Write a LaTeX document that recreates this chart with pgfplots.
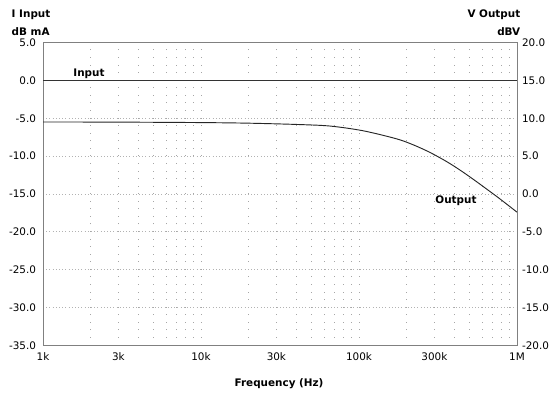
\documentclass[border=0pt]{standalone}
\usepackage{pgfplots}
\pgfplotsset{compat=1.18}
\usepackage{fontspec}
\setmainfont{DejaVu Sans}
\begin{document}
\fontsize{7.8}{9.4}\selectfont
\begin{tikzpicture}
\path (-32.25pt,-36pt) rectangle (384.75pt,259pt);
\begin{axis}[
  at={(0,0)}, anchor=south west,
  scale only axis, width=355.5pt, height=227pt,
  xmode=log, xmin=1000, xmax=1000000,
  ymin=-35, ymax=5,
  ytick={-35,-30,...,5},
  xtick={1000,3000,10000,30000,100000,300000,1000000},
  xticklabels={1k,3k,10k,30k,100k,300k,1M},
  minor xtick={2000,4000,5000,6000,7000,8000,9000,20000,40000,50000,60000,70000,80000,90000,200000,400000,500000,600000,700000,800000,900000},
  /pgf/number format/assume math mode=true,
  /pgf/number format/fixed, /pgf/number format/fixed zerofill, /pgf/number format/precision=1,
  yticklabel={\pgfmathprintnumber{\tick}},
  major tick length=0pt, minor tick length=0pt,
  axis line style={draw=black!50, line width=0.7pt},
  xmajorgrids, xminorgrids, ymajorgrids,
  x grid style={draw=black!35, line width=0.6pt, dash pattern=on 0.6pt off 5.075pt},
  minor x grid style={draw=black!35, line width=0.6pt, dash pattern=on 0.6pt off 5.075pt},
  y grid style={draw=black!30, line width=0.6pt, dash pattern=on 0.6pt off 1.8pt},
  xticklabel style={yshift=-3pt},
  yticklabel style={xshift=-2.5pt},
  clip=false,
]
\addplot[black!80, line width=0.7pt] coordinates {(1000,0) (1000000,0)};
\addplot[black!85, line width=0.7pt, smooth] coordinates {
(1000,-5.48) (3000,-5.50) (10000,-5.56) (20000,-5.64) (40500,-5.81) (65600,-6.02)
(106000,-6.64) (173000,-7.71) (221000,-8.51) (281000,-9.5) (359000,-10.72)
(436000,-11.84) (529000,-13.06) (643000,-14.35) (780000,-15.65) (1000000,-17.4)};
\node[font=\bfseries] at (axis cs:1955,0.94) {Input};
\node[font=\bfseries] at (axis cs:411000,-15.85) {Output};
\node[font=\bfseries] at (rel axis cs:0.498,0) [yshift=-28.5pt] {Frequency (Hz)};
\node[font=\bfseries, anchor=west] at (rel axis cs:0,1) [xshift=-26.25pt, yshift=21pt] {I Input};
\node[font=\bfseries, anchor=west] at (rel axis cs:0,1) [xshift=-26.25pt, yshift=8.25pt] {dB mA};
\node[font=\bfseries, anchor=east] at (rel axis cs:1,1) [xshift=5.25pt, yshift=21pt] {V Output};
\node[font=\bfseries, anchor=east] at (rel axis cs:1,1) [xshift=5.25pt, yshift=8.25pt] {dBV};
\end{axis}
\begin{axis}[
  at={(0,0)}, anchor=south west,
  scale only axis, width=355.5pt, height=227pt,
  xmode=log, xmin=1000, xmax=1000000,
  ymin=-20, ymax=20,
  ytick={-20,-15,...,20},
  axis y line*=right, hide x axis,
  /pgf/number format/assume math mode=true,
  /pgf/number format/fixed, /pgf/number format/fixed zerofill, /pgf/number format/precision=1,
  yticklabel={\pgfmathprintnumber{\tick}},
  major tick length=0pt,
  axis line style={draw=black!50, line width=0.7pt},
  yticklabel style={xshift=1pt},
]
\end{axis}
\end{tikzpicture}
\end{document}
